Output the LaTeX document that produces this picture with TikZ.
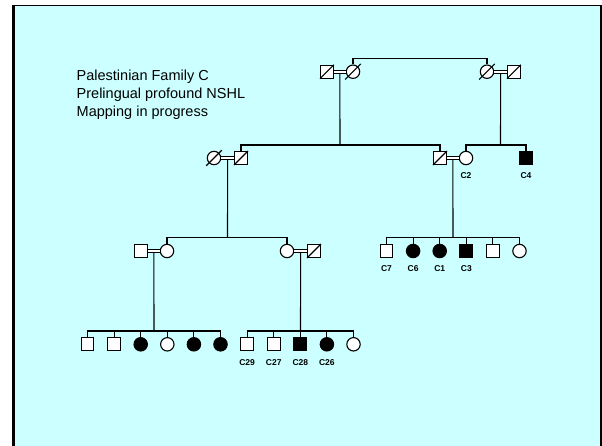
\documentclass[tikz,border=0pt]{standalone}
\usepackage{fontspec}
\setmainfont{Liberation Sans}
\definecolor{slidecyan}{RGB}{204,255,255}
\tikzset{
    person/.style={draw, line width=1.1pt, inner sep=0pt, fill=white},
    male/.style={person, rectangle, minimum size=12.8pt},
    female/.style={person, circle, minimum size=13.4pt},
    maleaff/.style={male, fill=black},
    femaleaff/.style={female, fill=black},
    kinline/.style={line width=1.1pt},
    marriage/.style={double, double distance=1.8pt, line width=0.9pt},
    idlabel/.style={font=\fontsize{8.5}{10}\selectfont\bfseries, inner sep=0pt}
}

\begin{document}
\begin{tikzpicture}[x=1pt, y=-1pt]
    \useasboundingbox (0,0) rectangle (602,445);
    % slide background
    \fill[slidecyan] (13.5,5.5) rectangle (601,452);
    \draw[line width=1.3pt] (13.5,452) -- (13.5,5.5) -- (601,5.5) -- (601,452);
    \draw[line width=3pt] (13.5,452) -- (13.5,5);

    \node[anchor=north west, inner sep=0pt, align=left, font=\fontsize{14.5}{18}\selectfont] (title) at (76.5,69.5)
        {Palestinian Family C\\Prelingual profound NSHL\\Mapping in progress};

    % individuals
    \foreach \name/\x/\y/\kind in {
        I1/327/71.7/male, I2/353/71.7/female, I3/487/71.7/female, I4/514/71.7/male,
        II1/214/158/female, II2/241/158/male, II3/440/158/male, II4/466/158/female, II5/526/158/maleaff,
        III1/141/251/male, III2/167/251/female, III3/287/251/female, III4/314/251/male,
        III5/386.5/251/male, III6/413.1/251/femaleaff, III7/439.7/251/femaleaff,
        III8/466.3/251/maleaff, III9/492.9/251/male, III10/519.5/251/female,
        IV1/87.5/344.3/male, IV2/114.1/344.3/male, IV3/140.7/344.3/femaleaff,
        IV4/167.3/344.3/female, IV5/193.9/344.3/femaleaff, IV6/220.5/344.3/femaleaff,
        IV7/247.1/344.3/male, IV8/273.7/344.3/male, IV9/300.3/344.3/maleaff,
        IV10/326.9/344.3/femaleaff, IV11/353.5/344.3/female}
    {
        \node[\kind] (\name) at (\x,\y) {};
    }

    % deceased
    \foreach \p in {I1,I4,II2,II3,III4}
        \draw[line width=1.1pt] (\p.south west) -- (\p.north east);
    \foreach \p in {I2,I3,II1}
        \draw[line width=1.1pt] ([shift={(-7.8pt,-7.8pt)}]\p.center) -- ([shift={(7.8pt,7.8pt)}]\p.center);

    % couples
    \foreach \a/\b/\m in {I1/I2/m1, I3/I4/m2, II1/II2/m3, II3/II4/m4, III1/III2/m5, III3/III4/m6}
    {
        \draw[marriage] (\a.east) -- (\b.west) coordinate[midway] (\m);
    }

    % sibships
    \coordinate (top) at (420,58.3);
    \coordinate (s1) at (340,145);
    \coordinate (s2) at (500.5,145);
    \coordinate (s3) at (227.5,237.7);
    \coordinate (s4) at (453,237.7);
    \coordinate (s5) at (154,331);
    \coordinate (s6) at (300.5,331);

    \draw[kinline] (I2.north) |- (top) -| (I3.north);
    \foreach \m/\s in {m1/s1, m2/s2, m3/s3, m4/s4, m5/s5, m6/s6}
        \draw[kinline] ([yshift=-1.8pt]\m) -- (\s);
    \foreach \c/\s in {II2/s1, II3/s1, II4/s2, II5/s2, III2/s3, III3/s3,
        III5/s4, III6/s4, III7/s4, III8/s4, III9/s4, III10/s4,
        IV1/s5, IV2/s5, IV3/s5, IV4/s5, IV5/s5, IV6/s5,
        IV7/s6, IV8/s6, IV9/s6, IV10/s6, IV11/s6}
        \draw[kinline] (\c.north) |- (\s);

    % sample numbers
    \foreach \p/\lab in {II4/C2, II5/C4, III5/C7, III6/C6, III7/C1, III8/C3,
        IV7/C29, IV8/C27, IV9/C28, IV10/C26}
    {
        \node[idlabel] (lab\p) at ([yshift=-18pt]\p.center) {\lab};
    }
\end{tikzpicture}
\end{document}
